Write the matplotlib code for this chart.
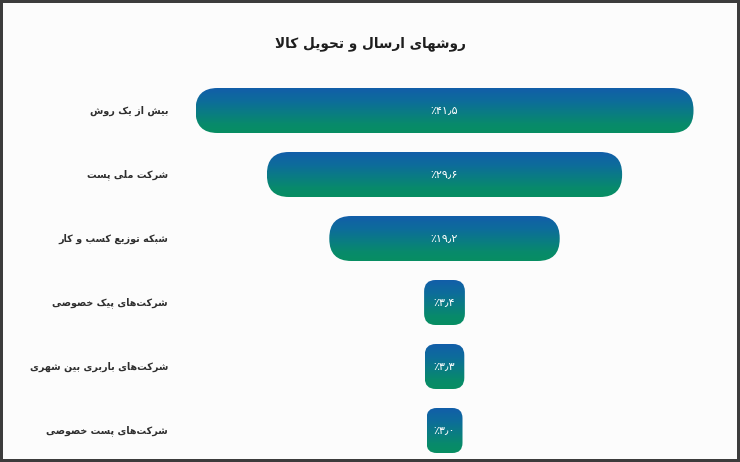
import matplotlib
matplotlib.use("Agg")
import matplotlib.pyplot as plt
import numpy as np
from matplotlib.patches import FancyBboxPatch
from matplotlib.colors import LinearSegmentedColormap
from matplotlib.transforms import blended_transform_factory

title = "روشهای ارسال و تحویل کالا"
categories = [
    "بیش از یک روش",
    "شرکت ملی پست",
    "شبکه توزیع کسب و کار",
    "شرکت\u200cهای پیک خصوصی",
    "شرکت\u200cهای باربری بین شهری",
    "شرکت\u200cهای پست خصوصی",
]
values = [41.5, 29.6, 19.2, 3.4, 3.3, 3.0]

# matplotlib has no arabic shaping, so pick presentation forms by hand
# (isolated, final, initial, medial)
FORMS = {
    "ا": ("\uFE8D", "\uFE8E", None, None),
    "ب": ("\uFE8F", "\uFE90", "\uFE91", "\uFE92"),
    "پ": ("\uFB56", "\uFB57", "\uFB58", "\uFB59"),
    "ت": ("\uFE95", "\uFE96", "\uFE97", "\uFE98"),
    "ح": ("\uFEA1", "\uFEA2", "\uFEA3", "\uFEA4"),
    "خ": ("\uFEA5", "\uFEA6", "\uFEA7", "\uFEA8"),
    "ر": ("\uFEAD", "\uFEAE", None, None),
    "ز": ("\uFEAF", "\uFEB0", None, None),
    "س": ("\uFEB1", "\uFEB2", "\uFEB3", "\uFEB4"),
    "ش": ("\uFEB5", "\uFEB6", "\uFEB7", "\uFEB8"),
    "ص": ("\uFEB9", "\uFEBA", "\uFEBB", "\uFEBC"),
    "ع": ("\uFEC9", "\uFECA", "\uFECB", "\uFECC"),
    "ک": ("\uFB8E", "\uFB8F", "\uFB90", "\uFB91"),
    "ل": ("\uFEDD", "\uFEDE", "\uFEDF", "\uFEE0"),
    "م": ("\uFEE1", "\uFEE2", "\uFEE3", "\uFEE4"),
    "ن": ("\uFEE5", "\uFEE6", "\uFEE7", "\uFEE8"),
    "ه": ("\uFEE9", "\uFEEA", "\uFEEB", "\uFEEC"),
    "و": ("\uFEED", "\uFEEE", None, None),
    "ی": ("\uFBFC", "\uFBFD", "\uFBFE", "\uFBFF"),
}


def joins_next(c):
    return c in FORMS and FORMS[c][2] is not None


def shape(text):
    out = []
    i = 0
    n = len(text)
    while i < n:
        c = text[i]
        if c not in FORMS:
            if c != "\u200c":
                out.append(c)
            i += 1
            continue
        link_prev = i > 0 and joins_next(text[i - 1])
        if c == "ل" and i + 1 < n and text[i + 1] == "ا":
            out.append("\uFEFC" if link_prev else "\uFEFB")
            i += 2
            continue
        link_next = joins_next(c) and i + 1 < n and text[i + 1] in FORMS
        iso, fin, ini, med = FORMS[c]
        if link_prev and link_next:
            out.append(med)
        elif link_prev:
            out.append(fin)
        elif link_next:
            out.append(ini)
        else:
            out.append(iso)
        i += 1
    return "".join(reversed(out))


def fa_percent(v):
    s = f"{v:.1f}".translate(str.maketrans("0123456789.", "۰۱۲۳۴۵۶۷۸۹٫"))
    return "٪" + s


plt.rcParams["font.family"] = ["DejaVu Sans"]

W, H = 740, 462
fig = plt.figure(figsize=(W / 100, H / 100), dpi=100)
fig.patch.set_facecolor("#fcfcfc")
fig.patch.set_edgecolor("#3c3c3c")
fig.patch.set_linewidth(3)
ax = fig.add_axes([0, 0, 1, 1])
ax.set_facecolor("none")
ax.axis("off")

k = 12.0          # px per percent
cx = 444.5        # funnel centre, px
row_px = 64       # row spacing
top_px = 110.5    # centre of first row
bar_h = 45 / row_px

cmap = LinearSegmentedColormap.from_list(
    "grad", [(0.0, "#125ea9"), (0.3, "#0d6d9a"), (0.55, "#0a7c83"),
             (0.8, "#088a6b"), (1.0, "#078e62")], N=256)
grad = np.linspace(0, 1, 256).reshape(-1, 1)

aspect = k / row_px
for i, v in enumerate(values):
    y = -i
    x0 = -v / 2
    rad_px = min(22, v * k * 0.28)
    patch = FancyBboxPatch((x0, y - bar_h / 2), v, bar_h,
                           boxstyle=f"round,pad=0,rounding_size={rad_px / k}",
                           mutation_aspect=aspect, linewidth=0,
                           facecolor="none")
    ax.add_patch(patch)
    im = ax.imshow(grad, cmap=cmap, aspect="auto", interpolation="bilinear",
                   extent=(x0, x0 + v, y - bar_h / 2, y + bar_h / 2),
                   origin="upper")
    im.set_clip_path(patch)
    ax.text(0, y, fa_percent(v), ha="center", va="center",
            color="white", fontsize=8)

ax.set_xlim(-cx / k, (W - cx) / k)
ax.set_ylim(-(H - top_px) / row_px, top_px / row_px)

lbl_tr = blended_transform_factory(ax.transAxes, ax.transData)
for i, name in enumerate(categories):
    ax.text(168 / W, -i, shape(name), transform=lbl_tr, ha="right",
            va="center", fontsize=6.9, color="#2e2e2e", fontweight="bold")

fig.text(0.5, 1 - 44 / H, shape(title), ha="center", va="center",
         fontsize=9.8, color="#1e1e1e", fontweight="bold")

fig.savefig("out.png", dpi=100)
